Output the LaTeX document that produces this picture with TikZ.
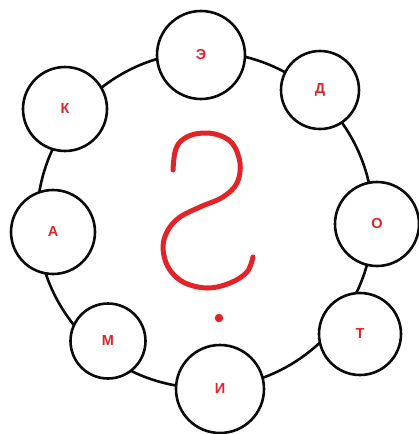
\documentclass[tikz,border=0pt]{standalone}
\usepackage{fontspec}
\setmainfont{Liberation Sans}
\usepackage{xcolor}
\usepackage{tikz}
\usetikzlibrary{positioning, calc}
\definecolor{myred}{RGB}{226,36,40}
\definecolor{mydark}{RGB}{10,10,10}
\tikzset{
  letter/.style={circle, draw=mydark, fill=white, inner sep=0pt,
    minimum size=84pt, line width=2.6pt, text=myred,
    font=\fontsize{14.5}{14.5}\selectfont\bfseries},
  ringline/.style={draw=mydark, line width=2.6pt},
  scribble/.style={draw=myred, line width=5pt, line cap=round, line join=round},
  blot/.style={circle, fill=myred, inner sep=0pt, minimum size=8.5pt}
}

\begin{document}
\begin{tikzpicture}[x=1pt, y=-1pt]
  \useasboundingbox (0,0) rectangle (419,434);

  % Ring
  \coordinate (ring) at (205,220);
  \draw[ringline] (ring) circle[radius=168];

  % Letters round the ring
  \node[letter, minimum size=88pt] (e) at (201,55) {Э};
  \node[letter, minimum size=78pt] (d) at (320,90) {Д};
  \node[letter, minimum size=84pt] (o) at (377,224) {О};
  \node[letter, minimum size=82pt] (t) at (360,334) {Т};
  \node[letter, minimum size=88pt] (i) at (220,389) {И};
  \node[letter, minimum size=75pt] (m) at (108,341) {М};
  \node[letter, minimum size=84pt] (a) at (53,232) {А};
  \node[letter, minimum size=84pt] (k) at (65,109) {К};

  % Question mark
  \draw[scribble] plot[smooth, tension=0.6] coordinates {
    (173,170) (175,152) (181,141) (195,134) (215,134) (232,143)
    (240,163) (237,183) (223,197) (200,207) (180,217) (168,230)
    (163,247) (168,267) (183,282) (207,288) (230,283) (247,272) (253,257)};
  \node[blot] (qdot) at (219,318) {};
\end{tikzpicture}
\end{document}
